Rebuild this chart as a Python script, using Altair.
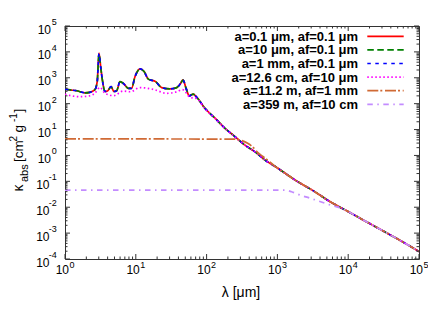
import altair as alt
import pandas as pd

FONT = "Liberation Sans"
W, H = 354, 233

# ---- data (wavelength in µm, kappa_abs in cm^2/g) ----
lam_main = [1.0, 1.17, 1.46, 1.91, 2.24, 2.63, 2.85, 3.02, 3.20, 3.37,
            3.67, 3.98, 4.47, 4.90, 5.37, 5.98, 6.81, 7.83, 8.71, 9.73,
            11.5, 13.1, 15.0, 19.1, 23.2, 30.4, 37.8, 43.1, 46.5, 51.3,
            57.0, 64.6, 72.4, 94.8, 131.5, 182, 251, 347, 479, 661,
            933, 1288, 1778, 3236, 5495, 9550, 16218, 28184, 47863, 100000]
kap_a01um = [363, 339, 316, 263, 275, 339, 708, 8913, 2512, 832,
             295, 309, 457, 295, 316, 708, 575, 389, 389, 1096,
             2188, 1738, 891, 708, 417, 372, 417, 617, 832, 389,
             200, 234, 178, 66.1, 27.5, 11.2, 5.37, 2.51, 1.41, 0.676,
             0.372, 0.204, 0.112, 0.0427, 0.0166, 0.00724, 0.00324, 0.00141, 0.000631, 0.000195]
kap_a10um = [363, 339, 316, 263, 275, 339, 690, 8400, 2450, 832,
             295, 309, 457, 295, 316, 708, 575, 389, 389, 1096,
             2188, 1738, 891, 708, 417, 372, 417, 617, 820, 389,
             200, 234, 178, 66.1, 27.5, 11.2, 5.37, 2.51, 1.41, 0.676,
             0.372, 0.204, 0.112, 0.0427, 0.0166, 0.00724, 0.00324, 0.00141, 0.000631, 0.000195]
kap_a1mm = [363, 339, 316, 263, 275, 339, 690, 8600, 2480, 832,
            295, 309, 457, 295, 316, 708, 575, 389, 389, 1096,
            2188, 1738, 891, 708, 417, 372, 417, 617, 820, 389,
            200, 234, 178, 66.1, 27.5, 11.2, 5.37, 2.51, 1.41, 0.676,
            0.372, 0.204, 0.112, 0.0427, 0.0166, 0.00724, 0.00324, 0.00141, 0.000631, 0.000195]

lam_cm = [1.0, 1.62, 2.24, 2.63, 3.12, 3.67, 4.90, 6.61, 8.32, 11.5,
          17.8, 27.5, 37.8, 45.7, 58.3, 72.4, 94.8, 131.5, 182, 251,
          347, 479, 661, 933, 1288, 1778, 3236, 5495, 9550, 16218,
          28184, 47863, 100000]
kap_cm = [229, 186, 200, 251, 427, 251, 204, 309, 288, 417,
          355, 251, 288, 347, 178, 158, 63.1, 26.9, 11.0, 5.25,
          2.51, 1.41, 0.676, 0.372, 0.204, 0.112, 0.0427, 0.0166, 0.00724, 0.00324,
          0.00141, 0.000631, 0.000195]

lam_11m = [1.0, 251, 316, 380, 447, 525, 631, 741, 933, 1288,
           1778, 3236, 5495, 9550, 16218, 28184, 47863, 100000]
kap_11m = [4.37, 4.27, 3.72, 2.95, 2.14, 1.32, 0.891, 0.631, 0.372, 0.204,
           0.112, 0.0427, 0.0166, 0.00724, 0.00324, 0.00141, 0.000631, 0.000195]

lam_359m = [1.0, 1259, 1585, 2089, 2884, 3981, 6166, 8511, 9550, 16218,
            28184, 47863, 100000]
kap_359m = [0.046, 0.046, 0.0398, 0.0295, 0.0224, 0.0166, 0.0112, 0.0085, 0.00724, 0.00324,
            0.00141, 0.000631, 0.000195]

labels = ["a=0.1 μm, af=0.1 μm", "a=10 μm, af=0.1 μm", "a=1 mm, af=0.1 μm",
          "a=12.6 cm, af=10 μm", "a=11.2 m, af=1 mm", "a=359 m, af=10 cm"]
colors = ["#ff0000", "#008000", "#0000ff", "#ff00ff", "#d06a35", "#c38cff"]
dashes = [None, [6.5, 3.5], [3.5, 4.5], [1.5, 2.5], [11, 2, 2, 2.7], [5.5, 4.5, 1.5, 4.5]]
series = [(lam_main, kap_a01um), (lam_main, kap_a10um), (lam_main, kap_a1mm),
          (lam_cm, kap_cm), (lam_11m, kap_11m), (lam_359m, kap_359m)]

x_major = [1, 10, 100, 1000, 10000, 100000]
x_exp = ["0", "1", "2", "3", "4", "5"]
y_major = [1e-4, 1e-3, 1e-2, 1e-1, 1, 10, 100, 1000, 10000, 100000]
y_exp = ["-4", "-3", "-2", "-1", "0", "1", "2", "3", "4", "5"]
x_minor = [m * 10 ** d for d in range(5) for m in range(2, 10)]
y_minor = [m * 10.0 ** d for d in range(-4, 5) for m in range(2, 10)]

xs = alt.Scale(type="log", domain=[1, 1e5], nice=False)
ys = alt.Scale(type="log", domain=[1e-4, 1e5], nice=False)
X = lambda f: alt.X(f, scale=xs, axis=None)
Y = lambda f: alt.Y(f, scale=ys, axis=None)
BORDER = "#333333"

layers = []

# ---- curves ----
for (lam, kap), col, dash in zip(series, colors, dashes):
    kw = dict(color=col, strokeWidth=1.7, interpolate="monotone", clip=True)
    if dash:
        kw["strokeDash"] = dash
    df = pd.DataFrame({"lam": lam, "kap": kap})
    layers.append(alt.Chart(df).mark_line(**kw).encode(x=X("lam:Q"), y=Y("kap:Q")))

# ---- ticks (inside, mirrored) ----
def xticks(vals, ln):
    d = pd.DataFrame({"v": vals})
    b = alt.Chart(d).mark_rule(color=BORDER, strokeWidth=1)
    return [b.encode(x=X("v:Q"), y=alt.value(H), y2=alt.value(H - ln)),
            b.encode(x=X("v:Q"), y=alt.value(0), y2=alt.value(ln))]

def yticks(vals, ln):
    d = pd.DataFrame({"v": vals})
    b = alt.Chart(d).mark_rule(color=BORDER, strokeWidth=1)
    return [b.encode(y=Y("v:Q"), x=alt.value(0), x2=alt.value(ln)),
            b.encode(y=Y("v:Q"), x=alt.value(W), x2=alt.value(W - ln))]

layers += xticks(x_major, 5) + xticks(x_minor, 2.5) + yticks(y_major, 5) + yticks(y_minor, 2.5)

# ---- tick labels ----
dfx = pd.DataFrame({"v": x_major, "e": x_exp})
layers.append(alt.Chart(dfx).mark_text(align="right", baseline="alphabetic", dx=4, font=FONT,
                                       fontSize=12, color="black")
              .encode(x=X("v:Q"), y=alt.value(248), text=alt.value("10")))
layers.append(alt.Chart(dfx).mark_text(align="left", baseline="alphabetic", dx=4.5, font=FONT,
                                       fontSize=9, color="black")
              .encode(x=X("v:Q"), y=alt.value(242), text="e:N"))

dfy = pd.DataFrame({"v": y_major, "e": y_exp})
dfy_pos = dfy[dfy["v"] >= 1]
dfy_neg = dfy[dfy["v"] < 1]
for d, xo in [(dfy_pos, -14), (dfy_neg, -15.5)]:
    layers.append(alt.Chart(d).mark_text(align="right", baseline="alphabetic", dy=7.5, font=FONT,
                                         fontSize=12, color="black")
                  .encode(y=Y("v:Q"), x=alt.value(xo), text=alt.value("10")))
layers.append(alt.Chart(dfy).mark_text(align="right", baseline="alphabetic", dy=-1, font=FONT,
                                       fontSize=9, color="black")
              .encode(y=Y("v:Q"), x=alt.value(-8.3), text="e:N"))

# ---- axis titles ----
one = pd.DataFrame({"k": [0]})
layers.append(alt.Chart(one).mark_text(text="λ [μm]", align="center", baseline="alphabetic",
                                       font=FONT, fontSize=14, color="black")
              .encode(x=alt.value(W / 2 - 1), y=alt.value(271)))

ytitle = [("κ", 14, -42, 165.5), ("abs", 11, -37.5, 156), ("[cm", 13.5, -42, 136),
          ("2", 10, -48, 115.5), ("g", 13.5, -42, 106.5), ("-1", 10, -48, 96), ("]", 13.5, -42, 86.5)]
for txt, fs, xo, yo in ytitle:
    layers.append(alt.Chart(one).mark_text(text=txt, align="left", baseline="alphabetic", angle=270,
                                           font=FONT, fontSize=fs, color="black")
                  .encode(x=alt.value(xo), y=alt.value(yo)))

# ---- legend (label left, sample right) ----
for i, (lab, col, dash) in enumerate(zip(labels, colors, dashes)):
    yy = 10.3 + 13.6 * i
    layers.append(alt.Chart(one).mark_text(text=lab, align="right", baseline="middle", font=FONT,
                                           fontSize=13, fontWeight="bold", color="black")
                  .encode(x=alt.value(293), y=alt.value(yy + 0.5)))
    kw = dict(color=col, strokeWidth=1.7)
    if dash:
        kw["strokeDash"] = dash
    layers.append(alt.Chart(one).mark_rule(**kw)
                  .encode(x=alt.value(302.3), x2=alt.value(338.7), y=alt.value(yy)))

chart = alt.layer(*layers).properties(
    width=W, height=H,
    padding={"left": 57, "top": 18, "right": 9, "bottom": 52},
    autosize=alt.AutoSizeParams(type="none"),
).configure_view(stroke=BORDER, strokeWidth=1)

chart.save("out.html", embed_options={"renderer": "svg", "actions": False})
